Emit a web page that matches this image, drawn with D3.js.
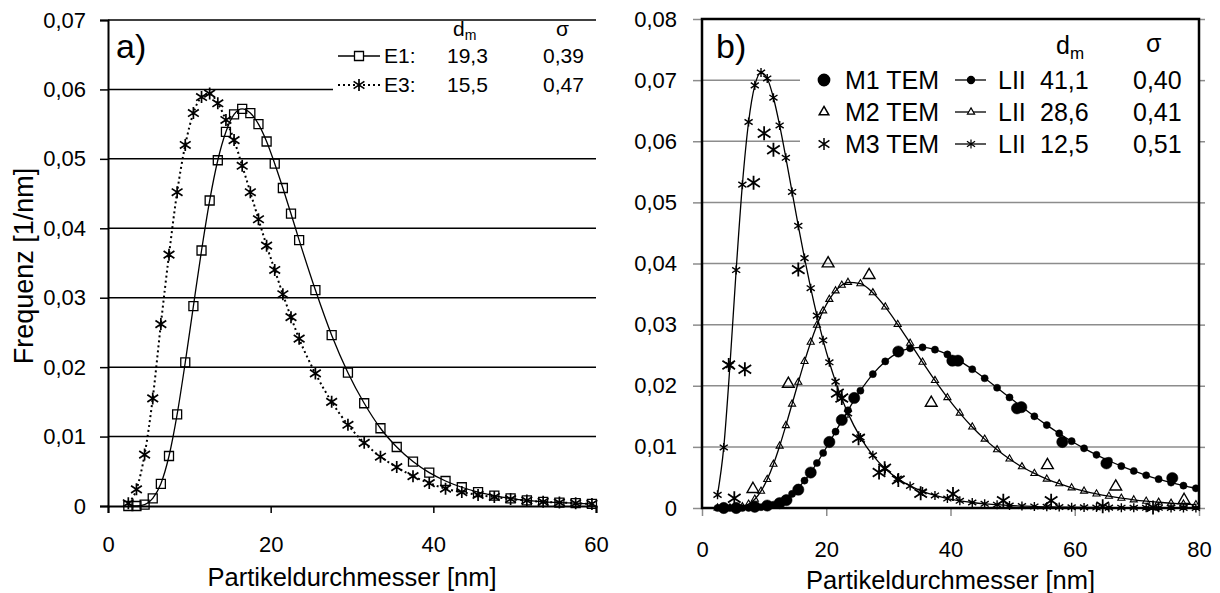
<!DOCTYPE html>
<html>
<head>
<meta charset="utf-8">
<script src="https://cdn.jsdelivr.net/npm/d3@7"></script>
<style>
  body { margin: 0; background: #fff; }
  text { font-family: "Liberation Sans", Arial, sans-serif; fill: #000; }
</style>
</head>
<body>
<div id="chart"></div>
<script>
// ---- panel a) data: diameter grid [nm] and frequency [1/nm]
var diamA = [2.5,3.5,4.5,5.5,6.5,7.5,8.5,9.5,10.5,11.5,12.5,13.5,14.5,15.5,16.5,17.5,18.5,19.5,20.5,21.5,22.5,23.5,
  25.5,27.5,29.5,31.5,33.5,35.5,37.5,39.5,41.5,43.5,45.5,47.5,49.5,51.5,53.5,55.5,57.5,59.5];
var freqE1 = [0,0,0.0002,0.0011,0.0032,0.0072,0.0132,0.0207,0.0288,0.0368,0.0440,0.0498,0.0539,0.0564,0.0572,0.0566,0.0550,0.0525,0.0493,0.0458,0.0421,0.0383,
  0.0311,0.0246,0.0192,0.0148,0.0112,0.0085,0.0064,0.0048,0.0036,0.0027,0.0020,0.0015,0.0011,0.0008,0.0006,0.0005,0.0004,0.0003];
var freqE3 = [0.0004,0.0024,0.0074,0.0155,0.0262,0.0362,0.0452,0.0520,0.0566,0.0589,0.0594,0.0580,0.0556,0.0527,0.0490,0.0452,0.0413,0.0375,0.0340,0.0305,0.0272,0.0241,
  0.0191,0.0150,0.0117,0.0091,0.0071,0.0056,0.0043,0.0033,0.0025,0.0020,0.0016,0.0013,0.0010,0.0008,0.0006,0.0005,0.0004,0.0003];
var legendA = ["E1:", "E3:"];
var dmA = ["19,3", "15,5"];
var sigmaA = ["0,39", "0,47"];

// ---- panel b) LII fits
var diamB = [2.5,3.5,4.5,5.5,6.5,7.5,8.5,9.5,10.5,11.5,12.5,13.5,14.5,15.5,16.5,17.5,18.5,19.5,20.5,21.5,22.5,23.5,
  25.5,27.5,29.5,31.5,33.5,35.5,37.5,39.5,41.5,43.5,45.5,47.5,49.5,51.5,53.5,55.5,57.5,59.5,61.5,63.5,65.5,67.5,69.5,71.5,73.5,75.5,77.5,79.5];
var lii1 = [0,0,0,0,0,0.00002,0.00005,0.00013,0.00028,0.00054,0.00095,0.00154,0.00231,0.0033,0.00448,0.00584,0.00736,0.0090,0.01073,0.01249,0.01426,0.01598,
  0.01919,0.0219,0.02398,0.02538,0.02612,0.02628,0.02591,0.02513,0.02403,0.0227,0.02122,0.01967,0.01809,0.01652,0.015,0.01356,0.0122,0.01093,0.00976,0.0087,0.00773,0.00685,0.00606,0.00535,0.00472,0.00416,0.00366,0.00322];
var lii2 = [0,0,0.00001,0.00005,0.00022,0.00063,0.00144,0.00276,0.00468,0.00716,0.01014,0.01349,0.01701,0.02057,0.02398,0.02713,0.02991,0.03226,0.03414,0.03553,0.03645,0.03692,
  0.0367,0.03522,0.03289,0.03004,0.02697,0.02386,0.02086,0.01806,0.01553,0.01326,0.01127,0.00953,0.00803,0.00675,0.00566,0.00474,0.00397,0.00331,0.00277,0.00231,0.00193,0.00161,0.00134,0.00112,0.00094,0.00078,0.00065,0.00055];
var lii3 = [0.00215,0.00991,0.02336,0.03893,0.0529,0.06315,0.06914,0.07124,0.07027,0.06712,0.06258,0.05729,0.05171,0.04617,0.04088,0.03596,0.03147,0.02743,0.02384,0.02067,0.0179,0.01548,
  0.01155,0.00861,0.00643,0.00481,0.00361,0.00271,0.00205,0.00155,0.00118,0.0009,0.00069,0.00054,0.00041,0.00032,0.00025,0.0002,0.00015,0.00012,0.0001,0.00008,0.00006,0.00005,0.00004,0.00003,0.00003,0.00002,0.00002,0.00001];

// ---- panel b) TEM counts
var tem1X = [3.5,5.5,8.5,10.5,12.5,13.6,15.5,17.5,20.5,22.5,24.5,31.6,40.3,41.2,50.7,51.4,58.0,65.1,75.7];
var tem1Y = [0,0,0.0002,0.0004,0.0008,0.0013,0.0030,0.0058,0.0108,0.0144,0.0180,0.0256,0.0241,0.0241,0.0163,0.0165,0.0108,0.0073,0.0049];
var tem2X = [8.2,13.9,20.3,26.9,36.9,55.6,66.6,77.6];
var tem2Y = [0.0031,0.0203,0.0400,0.0381,0.0172,0.0070,0.0035,0.0013];
var tem3X = [4.3,5.2,6.9,8.3,10.0,11.5,15.5,21.8,22.5,25.2,28.5,29.4,31.6,35.2,40.4,48.5,56.2,64.5,72.6];
var tem3Y = [0.0234,0.0016,0.0227,0.0532,0.0613,0.0586,0.0390,0.0188,0.0180,0.0114,0.0058,0.0065,0.0046,0.0024,0.0023,0.0012,0.0012,0.0003,0.0001];
var temNames = ["M1 TEM", "M2 TEM", "M3 TEM"];
var dmB = ["41,1", "28,6", "12,5"];
var sigmaB = ["0,40", "0,41", "0,51"];

var ticksA = [0, 0.01, 0.02, 0.03, 0.04, 0.05, 0.06, 0.07];
var ticksB = [0, 0.01, 0.02, 0.03, 0.04, 0.05, 0.06, 0.07, 0.08];
var xticksA = [0, 20, 40, 60];
var xticksB = [0, 20, 40, 60, 80];

(function() {
	var svg = d3.select("#chart").append("svg")
		.attr("width", 1220)
		.attr("height", 593)
		.style("background", "#fff");

	var de = d3.formatLocale({decimal: ",", thousands: ".", grouping: [3], currency: ["", ""]});
	var f2 = de.format(".2f");
	var yfmt = function(d) { return d === 0 ? "0" : f2(d); };

	// asterisk marker: an X plus a vertical stroke
	function star(r) {
		var dx = r * 0.9, dy = r * 0.6;
		return "M" + (-dx) + "," + (-dy) + "L" + dx + "," + dy +
			"M" + (-dx) + "," + dy + "L" + dx + "," + (-dy) +
			"M0," + (-r) + "L0," + r;
	}
	var tri = function(area) { return d3.symbol(d3.symbolTriangle, area)(); };
	var circ = function(area) { return d3.symbol(d3.symbolCircle, area)(); };
	var sq = function(s) { return "M" + (-s/2) + "," + (-s/2) + "h" + s + "v" + s + "h" + (-s) + "Z"; };

	function zip(xs, ys) { return xs.map(function(x, i) { return [x, ys[i]]; }); }

	function drawMarkers(g, pts, x, y, path, filled, sw) {
		g.selectAll(null).data(pts).enter().append("path")
			.attr("d", path)
			.attr("transform", function(d) { return "translate(" + x(d[0]) + "," + y(d[1]) + ")"; })
			.attr("fill", filled ? "#000" : "#fff")
			.attr("fill-opacity", filled ? 1 : 0)
			.attr("stroke", "#000")
			.attr("stroke-width", sw);
	}

	// =============== panel a) ===============
	var xa = d3.scaleLinear().domain([0, 60]).range([108, 596]);
	var ya = d3.scaleLinear().domain([0, 0.07]).range([506, 20]);
	var ga = svg.append("g");

	ga.selectAll(".grid").data(ticksA.slice(1)).enter().append("line")
		.attr("x1", xa(0)).attr("x2", xa(60))
		.attr("y1", function(d) { return ya(d); }).attr("y2", function(d) { return ya(d); })
		.attr("stroke", "#000").attr("stroke-width", 1.5);

	// legend background hides the grid behind it
	ga.append("rect").attr("x", 333).attr("y", 22).attr("width", 264).attr("height", 78).attr("fill", "#fff");

	var axA = ga.append("g").attr("transform", "translate(" + xa(0) + ",0)")
		.call(d3.axisLeft(ya).tickValues(ticksA).tickSize(8).tickPadding(14).tickFormat(yfmt));
	var axAx = ga.append("g").attr("transform", "translate(0," + ya(0) + ")")
		.call(d3.axisBottom(xa).tickValues(xticksA).tickSize(7).tickPadding(23).tickFormat(d3.format("d")));
	[axA, axAx].forEach(function(a) {
		a.select(".domain").attr("stroke", "#000").attr("stroke-width", 2);
		a.selectAll(".tick line").attr("stroke", "#000").attr("stroke-width", 1.5);
		a.selectAll(".tick text").style("font-size", "22px").style("font-family", "Liberation Sans, Arial, sans-serif");
	});

	var lineA = d3.line().x(function(d) { return xa(d[0]); }).y(function(d) { return ya(d[1]); }).curve(d3.curveMonotoneX);
	var e1 = zip(diamA, freqE1), e3 = zip(diamA, freqE3);
	ga.append("path").attr("d", lineA(e3)).attr("fill", "none").attr("stroke", "#000")
		.attr("stroke-width", 2).attr("stroke-dasharray", "2,3");
	ga.append("path").attr("d", lineA(e1)).attr("fill", "none").attr("stroke", "#000").attr("stroke-width", 1.3);
	drawMarkers(ga, e3, xa, ya, star(6), false, 1.7);
	drawMarkers(ga, e1, xa, ya, sq(9), false, 1.3);

	ga.append("text").attr("x", 116).attr("y", 58).style("font-size", "34px").text("a)");

	// legend a)
	var hA = ga.append("text").attr("x", 453).attr("y", 36).style("font-size", "21px");
	hA.append("tspan").text("d");
	hA.append("tspan").attr("dy", 4).style("font-size", "14px").text("m");
	ga.append("text").attr("x", 556).attr("y", 36).style("font-size", "21px").text("σ");
	legendA.forEach(function(name, i) {
		var cy = 56 + i * 29;
		ga.append("line").attr("x1", 338).attr("x2", 380).attr("y1", cy).attr("y2", cy)
			.attr("stroke", "#000").attr("stroke-width", i === 0 ? 1.3 : 2)
			.attr("stroke-dasharray", i === 0 ? null : "2,3");
		ga.append("path").attr("d", i === 0 ? sq(9) : star(6))
			.attr("transform", "translate(359," + cy + ")")
			.attr("fill", "#fff").attr("stroke", "#000").attr("stroke-width", i === 0 ? 1.3 : 1.7);
		ga.append("text").attr("x", 384).attr("y", cy + 7).style("font-size", "21px").text(name);
		ga.append("text").attr("x", 447).attr("y", cy + 7).style("font-size", "21px").text(dmA[i]);
		ga.append("text").attr("x", 543).attr("y", cy + 7).style("font-size", "21px").text(sigmaA[i]);
	});

	ga.append("text").attr("transform", "translate(33,266) rotate(-90)")
		.attr("text-anchor", "middle").style("font-size", "27px").text("Frequenz [1/nm]");
	ga.append("text").attr("x", (xa(0) + xa(60)) / 2).attr("y", 586)
		.attr("text-anchor", "middle").style("font-size", "25.5px").text("Partikeldurchmesser [nm]");

	// =============== panel b) ===============
	var xb = d3.scaleLinear().domain([0, 80]).range([702, 1199]);
	var yb = d3.scaleLinear().domain([0, 0.08]).range([508, 19]);
	var gb = svg.append("g");

	gb.selectAll(".grid").data(ticksB.slice(1, -1)).enter().append("line")
		.attr("x1", xb(0)).attr("x2", xb(80))
		.attr("y1", function(d) { return yb(d); }).attr("y2", function(d) { return yb(d); })
		.attr("stroke", "#8c8c8c").attr("stroke-width", 1.5);

	gb.append("rect").attr("x", 800).attr("y", 22).attr("width", 398).attr("height", 146).attr("fill", "#fff");

	var axB = gb.append("g").attr("transform", "translate(" + xb(0) + ",0)")
		.call(d3.axisLeft(yb).tickValues(ticksB).tickSize(9).tickPadding(16).tickFormat(yfmt));
	var axBr = gb.append("g").attr("transform", "translate(" + xb(80) + ",0)")
		.call(d3.axisRight(yb).tickValues(ticksB).tickSize(6).tickFormat(""));
	var axBx = gb.append("g").attr("transform", "translate(0," + yb(0) + ")")
		.call(d3.axisBottom(xb).tickValues(xticksB).tickSize(8).tickPadding(25).tickFormat(d3.format("d")));
	[axB, axBr, axBx].forEach(function(a) {
		a.select(".domain").remove();
		a.selectAll(".tick line").attr("stroke", "#8c8c8c").attr("stroke-width", 1.5);
		a.selectAll(".tick text").style("font-size", "22px").style("font-family", "Liberation Sans, Arial, sans-serif");
	});

	var lineB = d3.line().x(function(d) { return xb(d[0]); }).y(function(d) { return yb(d[1]); }).curve(d3.curveMonotoneX);
	var l1 = zip(diamB, lii1), l2 = zip(diamB, lii2), l3 = zip(diamB, lii3);
	[l1, l2, l3].forEach(function(s) {
		gb.append("path").attr("d", lineB(s)).attr("fill", "none").attr("stroke", "#000").attr("stroke-width", 1.3);
	});
	drawMarkers(gb, l1, xb, yb, circ(40), true, 0.5);
	drawMarkers(gb, l2, xb, yb, tri(22), false, 1.1);
	drawMarkers(gb, l3, xb, yb, star(4.5), false, 1.4);

	drawMarkers(gb, zip(tem1X, tem1Y), xb, yb, circ(100), true, 0.5);
	drawMarkers(gb, zip(tem2X, tem2Y), xb, yb, tri(60), false, 1.4);
	drawMarkers(gb, zip(tem3X, tem3Y), xb, yb, star(7), false, 1.8);

	// frame
	gb.append("rect").attr("x", xb(0)).attr("y", yb(0.08))
		.attr("width", xb(80) - xb(0)).attr("height", yb(0) - yb(0.08))
		.attr("fill", "none").attr("stroke", "#000").attr("stroke-width", 2.5);

	gb.append("text").attr("x", 716).attr("y", 58).style("font-size", "34px").text("b)");

	// legend b)
	var hB = gb.append("text").attr("x", 1056).attr("y", 54).style("font-size", "25px");
	hB.append("tspan").text("d");
	hB.append("tspan").attr("dy", 5).style("font-size", "17px").text("m");
	gb.append("text").attr("x", 1146).attr("y", 52).style("font-size", "25px").text("σ");
	var bigSym = [circ(100), tri(40), star(6)];
	var smallSym = [circ(40), tri(22), star(4.5)];
	temNames.forEach(function(name, i) {
		var cy = 80 + i * 32;
		gb.append("path").attr("d", bigSym[i]).attr("transform", "translate(824," + cy + ")")
			.attr("fill", i === 0 ? "#000" : "none").attr("stroke", "#000").attr("stroke-width", 1.5);
		gb.append("text").attr("x", 845).attr("y", cy + 9).style("font-size", "25px").text(name);
		gb.append("line").attr("x1", 955).attr("x2", 986).attr("y1", cy).attr("y2", cy)
			.attr("stroke", "#000").attr("stroke-width", 1.3);
		gb.append("path").attr("d", smallSym[i]).attr("transform", "translate(971," + cy + ")")
			.attr("fill", i === 0 ? "#000" : "#fff").attr("stroke", "#000").attr("stroke-width", 1.2);
		gb.append("text").attr("x", 998).attr("y", cy + 9).style("font-size", "25px").text("LII");
		gb.append("text").attr("x", 1040).attr("y", cy + 9).style("font-size", "25px").text(dmB[i]);
		gb.append("text").attr("x", 1133).attr("y", cy + 9).style("font-size", "25px").text(sigmaB[i]);
	});

	gb.append("text").attr("x", (xb(0) + xb(80)) / 2).attr("y", 589)
		.attr("text-anchor", "middle").style("font-size", "25.5px").text("Partikeldurchmesser [nm]");
})();
</script>
</body>
</html>
